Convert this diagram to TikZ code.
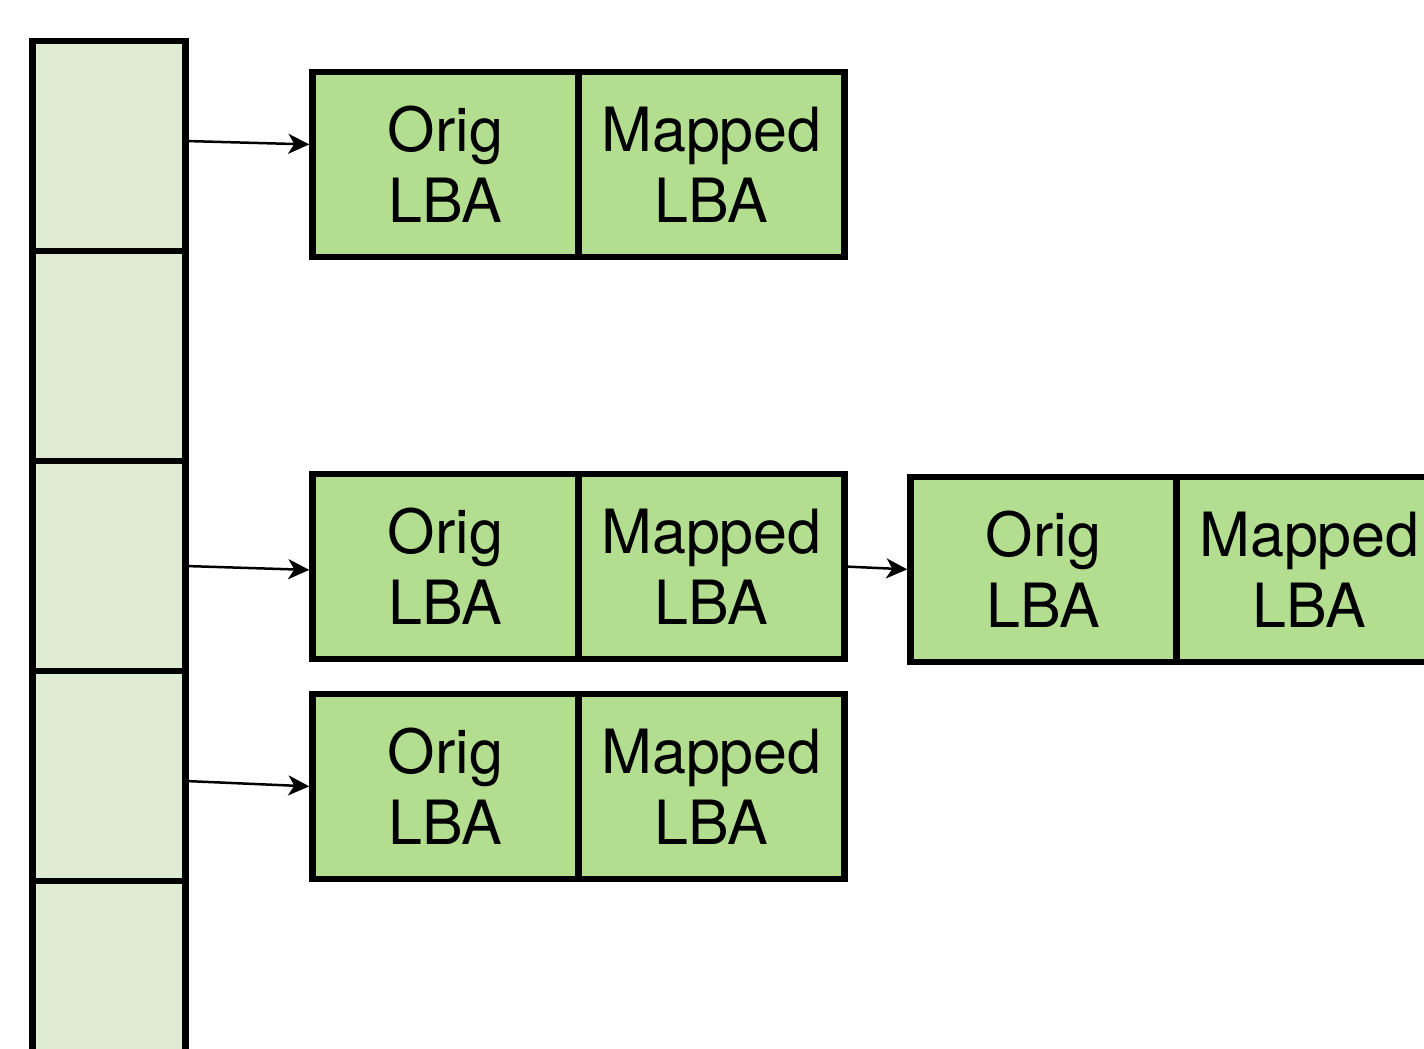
\documentclass[tikz,border=0pt]{standalone}
\usepackage{fontspec}
\setmainfont{TeX Gyre Heros}
\usetikzlibrary{arrows.meta,positioning}
\definecolor{slotgreen}{RGB}{224,235,212}
\definecolor{entrygreen}{RGB}{179,222,143}

\begin{document}
\begin{tikzpicture}[x=0.5pt,y=-0.5pt,
		slot/.style={rectangle,draw=black,fill=slotgreen,line width=3.25pt,outer sep=0pt,inner sep=0pt,minimum width=76.5pt,minimum height=105pt},
		half/.style={rectangle,draw=black,fill=entrygreen,line width=3.25pt,outer sep=0pt,inner sep=0pt,align=center,minimum width=133pt,minimum height=92.5pt,font=\fontsize{30.5}{35.5}\selectfont},
		link/.style={line width=1.25pt,-{Stealth[length=10.5pt,width=10pt,inset=3pt]},shorten <=1.6pt,shorten >=1.6pt}
	]
	\clip (0,0) rectangle (1424,1049);

	% table column
	\node[slot] (slot1) at (109,146) {};
	\node[slot,below=0pt of slot1] (slot2) {};
	\node[slot,below=0pt of slot2] (slot3) {};
	\node[slot,below=0pt of slot3] (slot4) {};
	\node[slot,below=0pt of slot4] (slot5) {};

	% entries
	\node[half] (orig1) at (445.5,164.5) {Orig\\LBA};
	\node[half,right=0pt of orig1] (mapped1) {Mapped\\LBA};

	\node[half] (orig2) at (445.5,566.5) {Orig\\LBA};
	\node[half,right=0pt of orig2] (mapped2) {Mapped\\LBA};

	\node[half] (orig3) at (445.5,786.5) {Orig\\LBA};
	\node[half,right=0pt of orig3] (mapped3) {Mapped\\LBA};

	\node[half] (orig4) at (1043.5,569.5) {Orig\\LBA};
	\node[half,right=0pt of orig4] (mapped4) {Mapped\\LBA};

	\draw[link] ([yshift=2.5pt]slot1.east) -- ([yshift=10pt]orig1.west);
	\draw[link] (slot3.east) -- ([yshift=-1.75pt]orig2.west);
	\draw[link] ([yshift=-2.5pt]slot4.east) -- (orig3.west);
	\draw[link] (mapped2.east) -- (orig4.west);

\end{tikzpicture}
\end{document}
